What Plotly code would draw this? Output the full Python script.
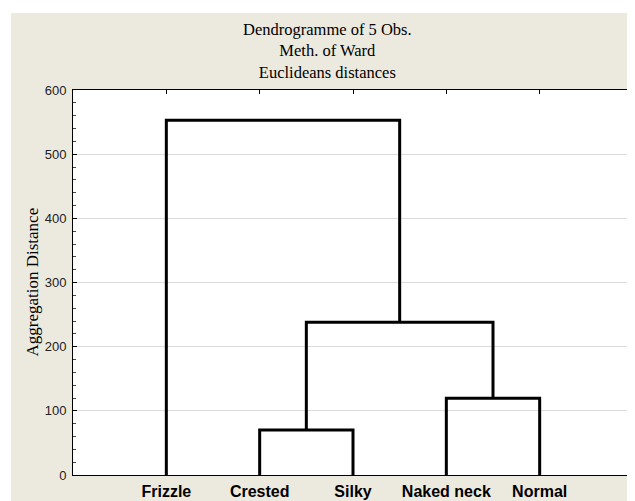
import plotly.graph_objects as go

# ---- data ----
leaves = ["Frizzle", "Crested", "Silky", "Naked neck", "Normal"]
# merges: (left member, right member, height); members are leaf names or merge indices
merge_left = ["Crested", "Naked neck", 0, "Frizzle"]
merge_right = ["Silky", "Normal", 1, 2]
merge_height = [70, 119.5, 238, 553]
y_ticks = [0, 100, 200, 300, 400, 500, 600]

title_lines = ["Dendrogramme of 5 Obs.", "Meth. of Ward", "Euclideans distances"]
y_title = "Aggregation Distance"

# ---- geometry (the page has an 8px body margin, so the figure sits at (8, 8)) ----
OFF = 8
W, H = 635 - OFF, 501 - OFF
L, R, T, B = 73 - OFF, 2, 90 - OFF, 26
pw, ph = W - L - R, H - T - B

def px_x(p):  # p in screen pixels
    return (p - OFF - L) / pw

def px_y(p):
    return 1 + (T - (p - OFF)) / ph

leaf_pos = {name: i + 1 for i, name in enumerate(leaves)}
node_pos, node_h = [], []

xs, ys = [], []
def member(m):
    if isinstance(m, str):
        return leaf_pos[m], 0
    return node_pos[m], node_h[m]

for a, b, h in zip(merge_left, merge_right, merge_height):
    xa, ha = member(a)
    xb, hb = member(b)
    xs += [xa, xa, xb, xb, None]
    ys += [ha, h, h, hb, None]
    node_pos.append((xa + xb) / 2)
    node_h.append(h)

beige = "#ECE9DF"
fig = go.Figure()
fig.add_trace(go.Scatter(x=xs, y=ys, mode="lines",
                         line=dict(color="black", width=3),
                         hoverinfo="skip", showlegend=False))

fig.update_layout(
    width=W, height=H,
    margin=dict(l=L, r=R, t=T, b=B, pad=0),
    paper_bgcolor=beige, plot_bgcolor="white",
    showlegend=False,
    xaxis=dict(range=[0, 6], tickvals=list(range(1, len(leaves) + 1)), ticktext=leaves,
               showgrid=False, zeroline=False, showline=True, linecolor="black", linewidth=1,
               mirror="ticks", ticks="inside", ticklen=4, tickcolor="black",
               ticklabelstandoff=2,
               tickfont=dict(family="Liberation Sans, Arial", size=16, color="black", weight="bold")),
    yaxis=dict(range=[0, 600], tickvals=y_ticks,
               showgrid=True, gridcolor="#DCDCDC", gridwidth=1, zeroline=False,
               showline=True, linecolor="black", linewidth=1,
               mirror="ticks", ticks="inside", ticklen=4, tickcolor="black",
               minor=dict(dtick=20, ticks="inside", ticklen=3, tickcolor="#444", showgrid=False),
               ticklabelstandoff=3,
               tickfont=dict(family="Liberation Sans, Arial", size=13, color="#222")),
    shapes=[
        dict(type="rect", xref="paper", yref="paper", x0=px_x(0), x1=px_x(11), y0=px_y(510), y1=px_y(0),
             fillcolor="white", line=dict(width=0), layer="below"),
        dict(type="rect", xref="paper", yref="paper", x0=px_x(0), x1=px_x(640), y0=px_y(13), y1=px_y(0),
             fillcolor="white", line=dict(width=0), layer="below"),
    ],
    annotations=[
        dict(text="<br>".join(title_lines), xref="paper", yref="paper", x=px_x(327), y=px_y(51),
             xanchor="center", yanchor="middle", showarrow=False,
             font=dict(family="Liberation Serif, Times New Roman", size=16.5, color="black")),
        dict(text=y_title, xref="paper", yref="paper", x=px_x(32), y=0.5, textangle=-90,
             xanchor="center", yanchor="middle", showarrow=False,
             font=dict(family="Liberation Serif, Times New Roman", size=17, color="black")),
    ],
)

fig.write_html("out.html")
